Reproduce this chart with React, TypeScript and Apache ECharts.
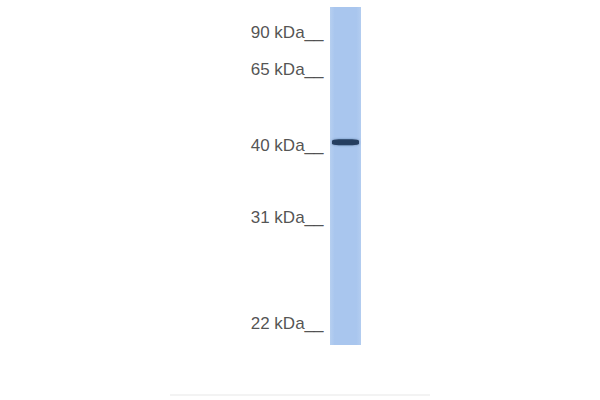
import React, { useEffect, useRef } from 'react';
import * as echarts from 'echarts';

// marker ladder (kDa) and where each one ran, as a fraction of lane length
const markerSizes = [90, 65, 40, 31, 22];
const markerMigration = [0.074, 0.186, 0.411, 0.624, 0.935];

// the sample lane and its single detected band
const lanes = ['Lane 1'];
const laneLength = [1];
const bandMigration = [0.4];

const App: React.FC = () => {
  const chartRef = useRef<HTMLDivElement>(null);

  useEffect(() => {
    if (!chartRef.current) return;
    const chart = echarts.init(chartRef.current, undefined, { renderer: 'svg' });

    const option: echarts.EChartsOption = {
      animation: false,
      backgroundColor: '#ffffff',
      grid: { left: 330, top: 7, width: 31, height: 338 },
      xAxis: {
        type: 'category',
        data: lanes,
        show: false,
      },
      yAxis: {
        type: 'value',
        inverse: true,
        min: 0,
        max: 1,
        show: false,
      },
      series: [
        {
          name: 'lane',
          type: 'bar',
          data: laneLength,
          barWidth: '100%',
          itemStyle: {
            color: {
              type: 'linear',
              x: 0,
              y: 0,
              x2: 1,
              y2: 0,
              colorStops: [
                { offset: 0, color: '#b6cff0' },
                { offset: 0.15, color: '#a9c6ee' },
                { offset: 0.85, color: '#a9c6ee' },
                { offset: 1, color: '#b3cdf0' },
              ],
            },
          },
          silent: true,
          z: 1,
        },
        {
          name: 'band',
          type: 'scatter',
          data: bandMigration.map((v) => [lanes[0], v]),
          symbol: 'roundRect',
          symbolSize: [27, 6],
          itemStyle: {
            color: '#1c3558',
            opacity: 0.9,
            shadowColor: 'rgba(28,53,88,0.5)',
            shadowBlur: 2,
          },
          z: 3,
        },
        {
          name: 'markers',
          type: 'scatter',
          data: markerMigration.map((v, i) => ({
            value: [lanes[0], v],
            name: String(markerSizes[i]),
          })),
          symbolSize: 0,
          label: {
            show: true,
            position: 'left',
            distance: 22,
            formatter: (p: any) => `${p.name} kDa__`,
            fontFamily: 'Liberation Sans, Arial, sans-serif',
            fontSize: 17,
            color: '#262626',
          },
          z: 4,
        },
      ],
      graphic: [
        {
          type: 'rect',
          shape: { x: 170, y: 394, width: 260, height: 2 },
          style: { fill: '#f3f3f3' },
          silent: true,
        },
      ],
    };

    chart.setOption(option);
    return () => chart.dispose();
  }, []);

  return (
    <div
      ref={chartRef}
      style={{ position: 'fixed', left: 0, top: 0, width: 600, height: 400 }}
    />
  );
};

export default App;
